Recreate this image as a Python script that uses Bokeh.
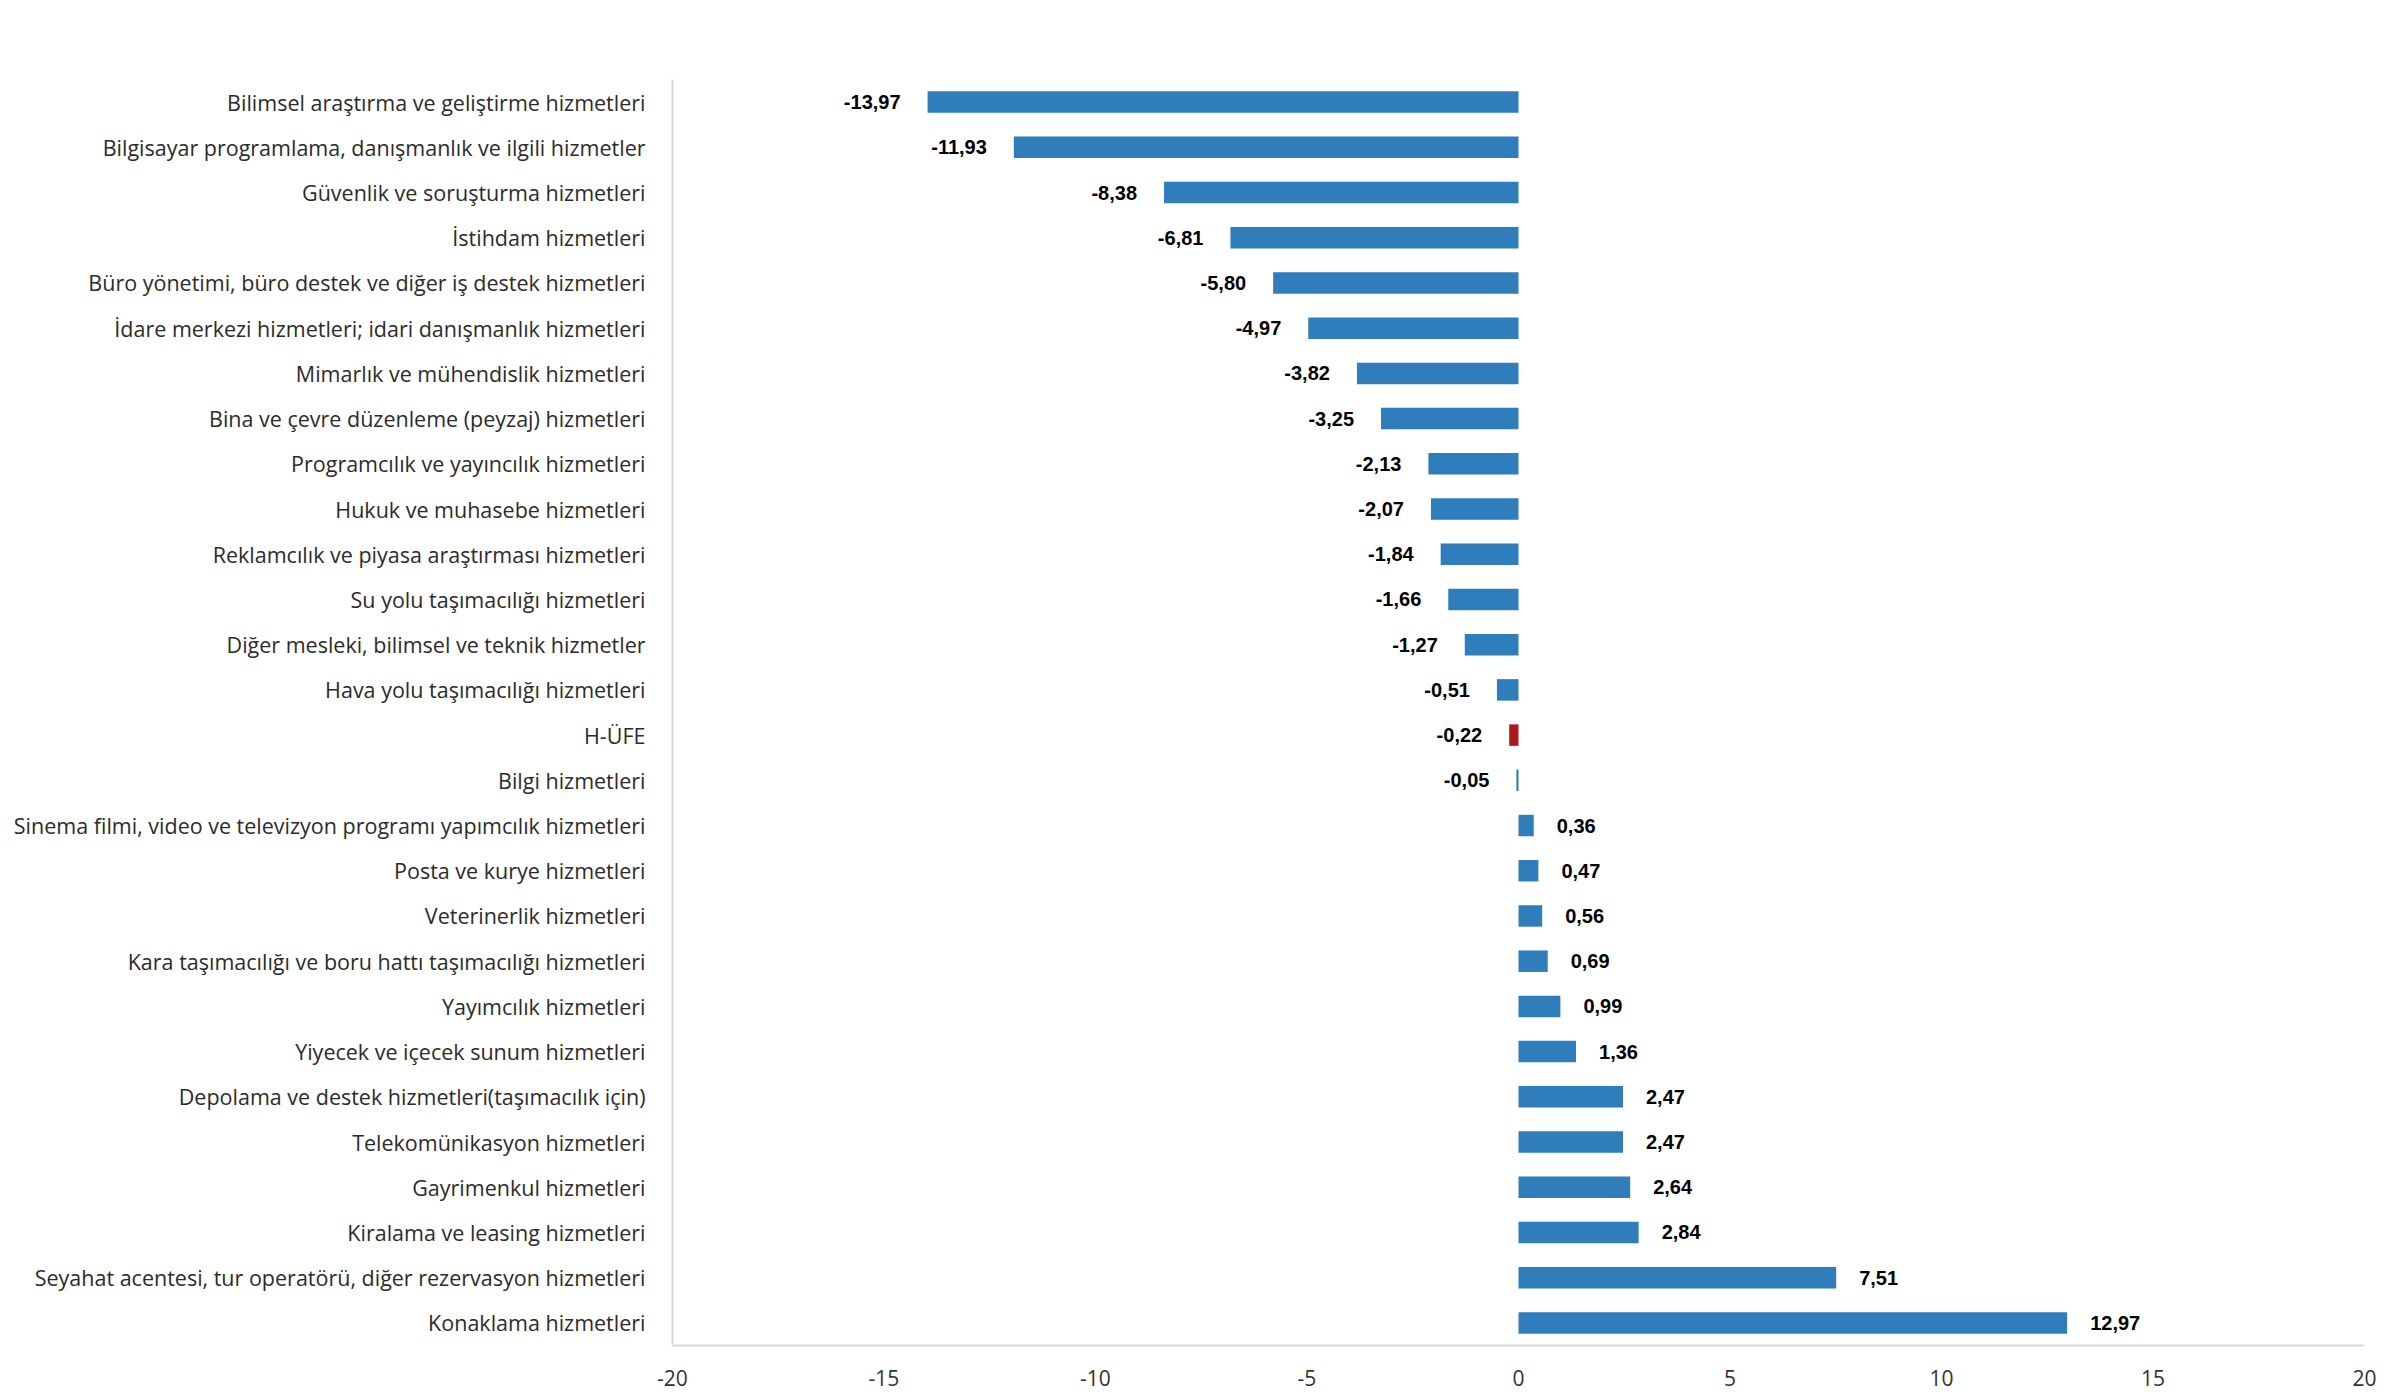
from bokeh.plotting import figure
from bokeh.models import ColumnDataSource, FactorRange, Range1d, FixedTicker
from bokeh.core.properties import value
from bokeh.embed import file_html
from bokeh.resources import INLINE

categories = [
    "Bilimsel araştırma ve geliştirme hizmetleri",
    "Bilgisayar programlama, danışmanlık ve ilgili hizmetler",
    "Güvenlik ve soruşturma hizmetleri",
    "İstihdam hizmetleri",
    "Büro yönetimi, büro destek ve diğer iş destek hizmetleri",
    "İdare merkezi hizmetleri; idari danışmanlık hizmetleri",
    "Mimarlık ve mühendislik hizmetleri",
    "Bina ve çevre düzenleme (peyzaj) hizmetleri",
    "Programcılık ve yayıncılık hizmetleri",
    "Hukuk ve muhasebe hizmetleri",
    "Reklamcılık ve piyasa araştırması hizmetleri",
    "Su yolu taşımacılığı hizmetleri",
    "Diğer mesleki, bilimsel ve teknik hizmetler",
    "Hava yolu taşımacılığı hizmetleri",
    "H-ÜFE",
    "Bilgi hizmetleri",
    "Sinema filmi, video ve televizyon programı yapımcılık hizmetleri",
    "Posta ve kurye hizmetleri",
    "Veterinerlik hizmetleri",
    "Kara taşımacılığı ve boru hattı taşımacılığı hizmetleri",
    "Yayımcılık hizmetleri",
    "Yiyecek ve içecek sunum hizmetleri",
    "Depolama ve destek hizmetleri(taşımacılık için)",
    "Telekomünikasyon hizmetleri",
    "Gayrimenkul hizmetleri",
    "Kiralama ve leasing hizmetleri",
    "Seyahat acentesi, tur operatörü, diğer rezervasyon hizmetleri",
    "Konaklama hizmetleri",
]
values = [
    -13.97, -11.93, -8.38, -6.81, -5.80, -4.97, -3.82, -3.25, -2.13, -2.07,
    -1.84, -1.66, -1.27, -0.51, -0.22, -0.05, 0.36, 0.47, 0.56, 0.69,
    0.99, 1.36, 2.47, 2.47, 2.64, 2.84, 7.51, 12.97,
]
highlight = "H-ÜFE"
x_ticks = [-20, -15, -10, -5, 0, 5, 10, 15, 20]

BLUE = "#2f7dba"
RED = "#ae171d"

colors = [RED if c == highlight else BLUE for c in categories]
labels = [("%.2f" % v).replace(".", ",") for v in values]

src = ColumnDataSource(dict(cat=categories, val=values, color=colors, label=labels))
neg = ColumnDataSource(dict(
    cat=[c for c, v in zip(categories, values) if v < 0],
    val=[v for v in values if v < 0],
    label=[l for l, v in zip(labels, values) if v < 0],
))
pos = ColumnDataSource(dict(
    cat=[c for c, v in zip(categories, values) if v >= 0],
    val=[v for v in values if v >= 0],
    label=[l for l, v in zip(labels, values) if v >= 0],
))

p = figure(
    width=2376, height=1392,
    y_range=FactorRange(*list(reversed(categories)), range_padding=0),
    x_range=Range1d(-20, 20),
    output_backend="svg", toolbar_location=None,
    min_border_left=672, min_border_right=12, min_border_top=79, min_border_bottom=47,
)
p.outline_line_color = None
p.background_fill_color = "white"
p.border_fill_color = "white"
p.xgrid.grid_line_color = None
p.ygrid.grid_line_color = None

p.hbar(y="cat", left=0, right="val", height=0.475, color="color", line_color=None, source=src)

p.text(x="val", y="cat", text="label", source=neg, x_offset=-27,
       text_align="right", text_baseline="middle",
       text_font=value("Liberation Sans"), text_font_style="bold",
       text_font_size="20px", text_color="#000000")
p.text(x="val", y="cat", text="label", source=pos, x_offset=23,
       text_align="left", text_baseline="middle",
       text_font=value("Liberation Sans"), text_font_style="bold",
       text_font_size="20px", text_color="#000000")

xa = p.xaxis[0]
xa.ticker = FixedTicker(ticks=x_ticks)
xa.major_label_overrides = {t: str(t) for t in x_ticks}
xa.axis_line_color = "#d9d9d9"
xa.axis_line_width = 2
xa.major_tick_line_color = None
xa.minor_tick_line_color = None
xa.major_tick_out = 0
xa.major_label_standoff = 24
xa.major_label_text_font = "Open Sans"
xa.major_label_text_font_size = "21px"
xa.major_label_text_color = "#333333"

ya = p.yaxis[0]
ya.axis_line_color = "#d9d9d9"
ya.axis_line_width = 2
ya.major_tick_line_color = None
ya.minor_tick_line_color = None
ya.major_tick_out = 0
ya.major_label_standoff = 27
ya.major_label_text_font = "Open Sans"
ya.major_label_text_font_size = "21.5px"
ya.major_label_text_color = "#2b2b2b"

open("out.html", "w").write(file_html(p, INLINE))
